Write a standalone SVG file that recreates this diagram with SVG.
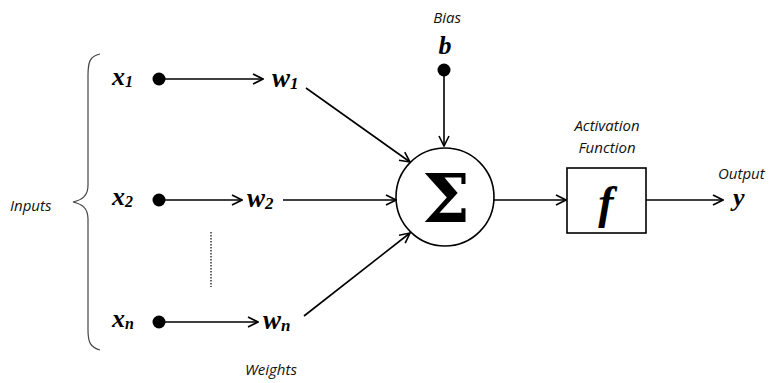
<svg xmlns="http://www.w3.org/2000/svg" width="773" height="383" viewBox="0 0 773 383">
<defs>
<marker id="arr" viewBox="0 0 12 12" refX="11" refY="6" markerWidth="12" markerHeight="12" markerUnits="userSpaceOnUse" orient="auto">
<path d="M1,1 L11,6 L1,11" fill="none" stroke="#000" stroke-width="1.6"/>
</marker>
<style>
.lbl{font-family:"Open Sans",Lato,sans-serif;font-style:italic;font-size:15px;fill:#111}
.var{font-family:"Liberation Serif","DejaVu Serif",serif;font-style:italic;font-weight:bold;fill:#000}
.w{font-family:"Liberation Serif","DejaVu Serif",serif;font-style:italic;font-weight:bold;fill:#000}
.ln{stroke:#000;stroke-width:1.6;fill:none}
.dot{fill:#000}
</style>
</defs>
<rect width="773" height="383" fill="#fff"/>

<g id="inputs-brace">
<path d="M100,54 C90,56 88,62 88,75 L88,185 C88,196 82,200 73,202 C82,204 88,208 88,219 L88,330 C88,342 90,347 100,350" fill="none" stroke-width="1.2" stroke="#444"/>
<text class="lbl" x="10" y="211">Inputs</text>
</g>

<g id="x1">
<text class="var" x="112" y="85" font-size="26">x<tspan font-size="16" dy="2">1</tspan></text>
<circle class="dot" cx="159" cy="79" r="6.5"/>
</g>
<g id="x2">
<text class="var" x="112" y="205" font-size="26">x<tspan font-size="16" dy="2">2</tspan></text>
<circle class="dot" cx="159" cy="200" r="6.5"/>
</g>
<g id="xn">
<text class="var" x="112" y="327" font-size="26">x<tspan font-size="16" dy="2">n</tspan></text>
<circle class="dot" cx="159" cy="322" r="6.5"/>
</g>

<g id="w1"><text class="w" x="272" y="87" font-size="27">w<tspan font-size="17" dy="2">1</tspan></text></g>
<g id="w2"><text class="w" x="247" y="207" font-size="27">w<tspan font-size="17" dy="2">2</tspan></text></g>
<g id="wn"><text class="w" x="263" y="329" font-size="27">w<tspan font-size="17" dy="2">n</tspan></text></g>
<g id="weights-label"><text class="lbl" x="245" y="375">Weights</text></g>

<g id="bias">
<text class="lbl" x="447" y="23" text-anchor="middle">Bias</text>
<text class="w" x="445" y="54" font-size="26" text-anchor="middle">b</text>
<circle class="dot" cx="444" cy="70" r="6.5"/>
</g>

<g id="sum">
<circle class="ln" cx="445" cy="197" r="49"/>
<text x="446" y="222" font-family="'DejaVu Serif','Liberation Serif',serif" font-size="68" font-weight="bold" text-anchor="middle" fill="#000">Σ</text>
</g>

<g id="activation">
<text class="lbl" x="607" y="131" text-anchor="middle">Activation</text>
<text class="lbl" x="607" y="153" text-anchor="middle">Function</text>
<rect class="ln" x="567" y="168" width="79" height="65"/>
<text class="w" x="606" y="218" font-size="46" text-anchor="middle">f</text>
</g>

<g id="output">
<text class="lbl" x="718" y="179">Output</text>
<text class="w" x="733" y="206" font-size="26">y</text>
</g>

<g id="connectors">
<line class="ln" x1="159" y1="79" x2="263" y2="79" marker-end="url(#arr)"/>
<line class="ln" x1="159" y1="200" x2="242" y2="200" marker-end="url(#arr)"/>
<line class="ln" x1="159" y1="322" x2="258" y2="322" marker-end="url(#arr)"/>
<line class="ln" x1="306" y1="88" x2="410" y2="162" marker-end="url(#arr)"/>
<line class="ln" x1="283" y1="200" x2="396" y2="200" marker-end="url(#arr)"/>
<line class="ln" x1="304" y1="316" x2="410" y2="233" marker-end="url(#arr)"/>
<line class="ln" x1="444" y1="70" x2="444" y2="146" marker-end="url(#arr)"/>
<line class="ln" x1="494" y1="200" x2="566" y2="200" marker-end="url(#arr)"/>
<line class="ln" x1="646" y1="200" x2="723" y2="200" marker-end="url(#arr)"/>
<line x1="211" y1="232" x2="211" y2="287" stroke="#333" stroke-width="1.5" stroke-dasharray="1.5,1.5"/>
</g>
</svg>
